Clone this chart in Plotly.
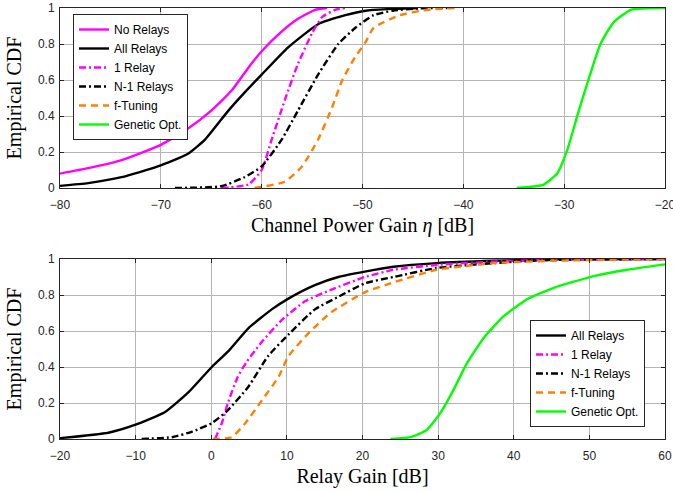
import plotly.graph_objects as go

# ---------------- Top panel: Channel Power Gain (dB) ----------------
no_relays_x = [-80, -77.2, -73.9, -70.0, -67.3, -65, -63, -61.3, -60, -58, -56.4, -54.7, -53.5]
no_relays_y = [0.08, 0.11, 0.155, 0.24, 0.33, 0.43, 0.54, 0.67, 0.76, 0.87, 0.94, 0.99, 1.0]

all_top_x = [-80, -77.2, -73.9, -70.3, -67.3, -65.6, -63.3, -61.7, -60, -57.4, -54.4, -51.7, -49.7, -47, -44.5]
all_top_y = [0.012, 0.027, 0.06, 0.12, 0.19, 0.27, 0.43, 0.53, 0.63, 0.78, 0.91, 0.96, 0.985, 0.995, 1.0]

one_top_x = [-64, -61.3, -60, -59, -57.7, -56.4, -55, -54, -52.7, -51.7]
one_top_y = [0.0, 0.02, 0.1, 0.27, 0.49, 0.69, 0.86, 0.95, 0.99, 1.0]

n1_top_x = [-68.6, -64, -61.7, -60, -58, -56.4, -54.4, -52.4, -50.7, -48.9, -47, -44.3, -41.6]
n1_top_y = [0.0, 0.01, 0.06, 0.12, 0.27, 0.43, 0.63, 0.80, 0.89, 0.96, 0.985, 0.998, 1.0]

ft_top_x = [-60.7, -57.7, -56, -54.4, -53, -52, -50.7, -49.7, -48.9, -46.3, -43.6, -40.8]
ft_top_y = [0.0, 0.035, 0.12, 0.27, 0.45, 0.60, 0.73, 0.81, 0.89, 0.96, 0.99, 1.0]

ga_top_x = [-34.7, -32.1, -30.7, -29.7, -28.6, -27.6, -26.4, -25.1, -23.4, -20.7, -20]
ga_top_y = [0.0, 0.017, 0.08, 0.21, 0.42, 0.60, 0.80, 0.92, 0.99, 1.0, 1.0]

# ---------------- Bottom panel: Relay Gain (dB) ----------------
all_bot_x = [-20, -13.6, -10.1, -6.1, -3.0, 0.07, 2.2, 4.9, 8.0, 10.2, 13.7, 16.8, 20.3, 24.1, 29.8, 37.3, 45, 60]
all_bot_y = [0.005, 0.035, 0.078, 0.15, 0.26, 0.40, 0.485, 0.615, 0.72, 0.78, 0.855, 0.90, 0.93, 0.957, 0.977, 0.99, 0.998, 1.0]

one_bot_x = [0.5, 1.4, 2.2, 3.5, 4.7, 6.7, 9.3, 12.4, 15.9, 20.3, 24.1, 29.8, 37.3, 45, 60]
one_bot_y = [0.0, 0.088, 0.20, 0.345, 0.43, 0.54, 0.66, 0.765, 0.83, 0.90, 0.94, 0.967, 0.985, 0.995, 1.0]

n1_bot_x = [-9.2, -5.2, -2.6, 0.07, 2.2, 4.9, 7.5, 10.2, 13.7, 16.8, 20.3, 24.1, 29.8, 37.3, 45, 60]
n1_bot_y = [0.0, 0.01, 0.04, 0.088, 0.16, 0.29, 0.46, 0.58, 0.72, 0.79, 0.865, 0.90, 0.95, 0.977, 0.995, 1.0]

ft_bot_x = [0.2, 2.7, 4.5, 6.7, 8.9, 10.2, 12.9, 15.9, 20.3, 24.1, 29.8, 37.3, 45, 60]
ft_bot_y = [0.0, 0.01, 0.088, 0.215, 0.345, 0.46, 0.59, 0.705, 0.815, 0.87, 0.94, 0.977, 0.99, 1.0]

ga_bot_x = [23.7, 26.3, 28.5, 30.3, 32.0, 33.8, 36.0, 38.6, 41.7, 45.3, 50.6, 55.0, 60]
ga_bot_y = [0.0, 0.01, 0.05, 0.145, 0.27, 0.42, 0.56, 0.68, 0.775, 0.84, 0.905, 0.94, 0.97]

top_xticks = [-80, -70, -60, -50, -40, -30, -20]
bot_xticks = [-20, -10, 0, 10, 20, 30, 40, 50, 60]
yticks = [0, 0.2, 0.4, 0.6, 0.8, 1]

MAG = "#FF00FF"
BLK = "#000000"
ORG = "#FF8000"
GRN = "#00FF00"
LW = 2.4
DASHDOT = "7px,3px,2px,3px"
DASH = "7px,5px"

fig = go.Figure()

def add(x, y, name, color, dash, xa, ya, legend):
    fig.add_trace(go.Scatter(
        x=x, y=y, name=name, mode="lines", xaxis=xa, yaxis=ya,
        line=dict(color=color, width=LW, dash=dash, shape="spline", smoothing=0.5),
        legend=legend,
    ))

add(no_relays_x, no_relays_y, "No Relays", MAG, "solid", "x", "y", "legend")
add(all_top_x, all_top_y, "All Relays", BLK, "solid", "x", "y", "legend")
add(one_top_x, one_top_y, "1 Relay", MAG, DASHDOT, "x", "y", "legend")
add(n1_top_x, n1_top_y, "N-1 Relays", BLK, DASHDOT, "x", "y", "legend")
add(ft_top_x, ft_top_y, "f-Tuning", ORG, DASH, "x", "y", "legend")
add(ga_top_x, ga_top_y, "Genetic Opt.", GRN, "solid", "x", "y", "legend")

add(all_bot_x, all_bot_y, "All Relays", BLK, "solid", "x2", "y2", "legend2")
add(one_bot_x, one_bot_y, "1 Relay", MAG, DASHDOT, "x2", "y2", "legend2")
add(n1_bot_x, n1_bot_y, "N-1 Relays", BLK, DASHDOT, "x2", "y2", "legend2")
add(ft_bot_x, ft_bot_y, "f-Tuning", ORG, DASH, "x2", "y2", "legend2")
add(ga_bot_x, ga_bot_y, "Genetic Opt.", GRN, "solid", "x2", "y2", "legend2")

W, H = 673, 491


def px(v):
    return v / W


def py(v):
    return 1 - v / H


x0, x1 = px(60), px(665)

tick_font = dict(family="Liberation Sans, Arial, sans-serif", size=12, color="#262626")
axis_common = dict(
    showline=True, linecolor="#262626", linewidth=1, mirror="allticks",
    ticks="inside", ticklen=4, tickcolor="#262626",
    showgrid=True, gridcolor="#b5b5b5", gridwidth=1,
    zeroline=False, automargin=False, ticklabeloverflow="allow",
    tickfont=tick_font,
)
title_font = dict(family="Liberation Serif, Times New Roman, serif", size=20, color="#000000")
legend_font = dict(family="Liberation Sans, Arial, sans-serif", size=12, color="#000")

fig.update_layout(
    width=W, height=H,
    margin=dict(l=0, r=0, t=0, b=0),
    paper_bgcolor="white", plot_bgcolor="white",
    xaxis=dict(domain=[x0, x1], range=[-80, -20], tickvals=top_xticks, anchor="y",
               ticklabelstandoff=6,
               title=dict(text="Channel Power Gain <i>η</i> [dB]", font=title_font, standoff=6),
               **axis_common),
    yaxis=dict(domain=[py(188), py(8)], range=[0, 1], tickvals=yticks, anchor="x",
               ticklabelstandoff=2,
               title=dict(text="Empirical CDF", font=title_font, standoff=10),
               **axis_common),
    xaxis2=dict(domain=[x0, x1], range=[-20, 60], tickvals=bot_xticks, anchor="y2",
                ticklabelstandoff=6,
                title=dict(text="Relay Gain [dB]", font=title_font, standoff=6),
                **axis_common),
    yaxis2=dict(domain=[py(439), py(259)], range=[0, 1], tickvals=yticks, anchor="x2",
                ticklabelstandoff=2,
                title=dict(text="Empirical CDF", font=title_font, standoff=10),
                **axis_common),
    legend=dict(x=px(73), y=py(14), xanchor="left", yanchor="top",
                bgcolor="white", bordercolor="#262626", borderwidth=1,
                font=legend_font, tracegroupgap=0, itemwidth=30),
    legend2=dict(x=px(530), y=py(320), xanchor="left", yanchor="top",
                 bgcolor="white", bordercolor="#262626", borderwidth=1,
                 font=legend_font, tracegroupgap=0, itemwidth=30),
    showlegend=True,
)

fig.write_html(
    "out.html",
    config={"displayModeBar": False},
    post_script="document.body.style.margin='0';document.body.style.overflow='hidden';",
)
